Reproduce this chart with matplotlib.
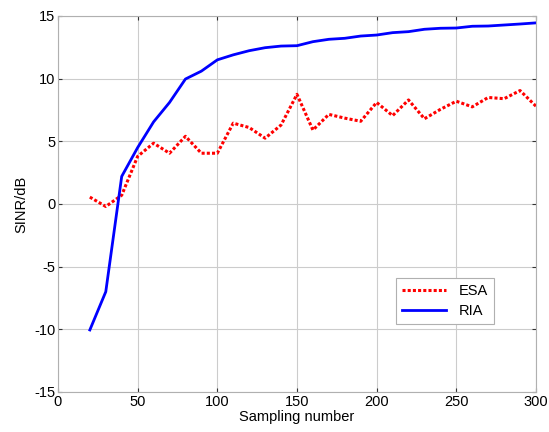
import numpy as np
import matplotlib
matplotlib.use('Agg')
import matplotlib.pyplot as plt

plt.rcParams['font.family'] = ['Liberation Sans', 'DejaVu Sans']
plt.rcParams['axes.unicode_minus'] = False

samples = np.arange(20, 301, 10)
esa = [0.55, -0.2, 0.7, 3.8, 4.85, 4.05, 5.4, 4.05, 4.05, 6.45, 6.1, 5.25, 6.3, 8.75,
       5.9, 7.15, 6.85, 6.6, 8.1, 7.05, 8.3, 6.8, 7.55, 8.2, 7.75, 8.5, 8.4, 9.05, 7.8]
ria = [-10.05, -7.0, 2.2, 4.5, 6.55, 8.1, 9.97, 10.6, 11.5, 11.9, 12.23, 12.47, 12.6, 12.63,
       12.95, 13.14, 13.22, 13.4, 13.48, 13.67, 13.75, 13.94, 14.02, 14.04, 14.18, 14.2,
       14.28, 14.36, 14.45]

fig = plt.figure(figsize=(5.49, 4.32), dpi=100)
ax = fig.add_axes([0.1056, 0.0926, 0.8707, 0.8704])

ax.plot(samples, esa, color='#ff0000', dashes=(1, 0.7), lw=2.2, label='ESA')
ax.plot(samples, ria, color='#0000ff', linestyle='-', lw=2.0, label='RIA')

ax.set_xlim(0, 300)
ax.set_ylim(-15, 15)
ax.set_xticks(np.arange(0, 301, 50))
ax.set_yticks(np.arange(-15, 16, 5))
ax.grid(True, color='#cccccc', lw=0.8)
for s in ax.spines.values():
    s.set_color('#b0b0b0')
    s.set_linewidth(0.8)
ax.tick_params(direction='in', length=3, color='#333333', labelsize=10.5,
               top=True, right=True, pad=2)

ax.set_xlabel('Sampling number', fontsize=10.5, labelpad=1)
ax.set_ylabel('SINR/dB', fontsize=10.5, labelpad=4)

leg = ax.legend(loc='lower right', bbox_to_anchor=(0.912, 0.181), borderaxespad=0,
                fontsize=10.5, frameon=True, fancybox=False, framealpha=1,
                edgecolor='#b0b0b0', handlelength=3.0, borderpad=0.4,
                labelspacing=0.4, handletextpad=0.9)
leg.get_frame().set_linewidth(0.8)

fig.savefig('out.png', dpi=100)
